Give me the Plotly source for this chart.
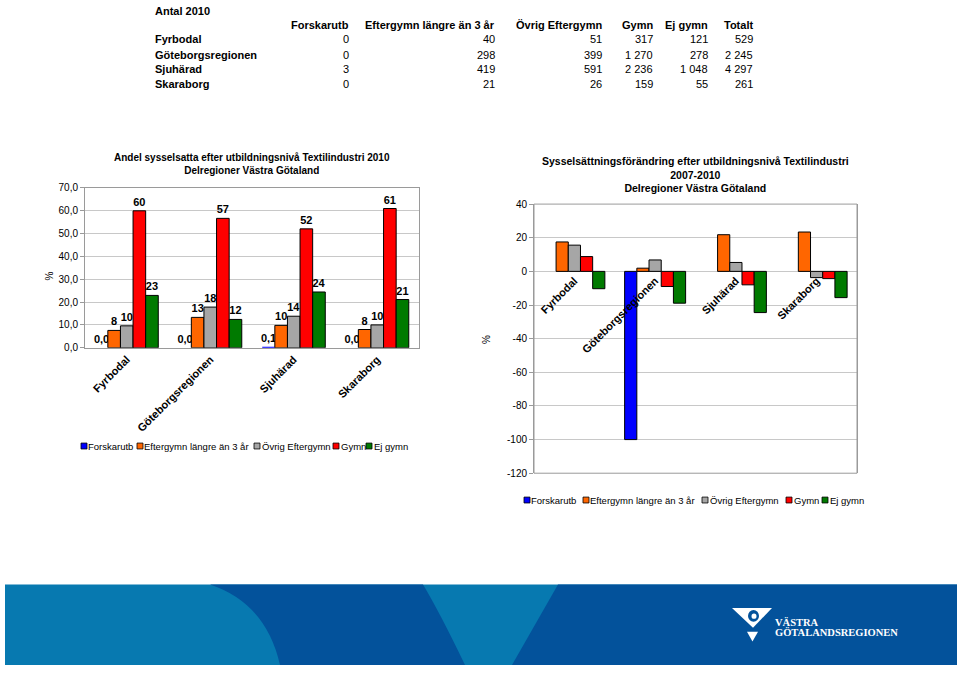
import plotly.graph_objects as go

W, H = 960, 673
FONT = "Liberation Sans, Arial, sans-serif"

# ---------------- data ----------------
regions = ["Fyrbodal", "Göteborgsregionen", "Sjuhärad", "Skaraborg"]
series = ["Forskarutb", "Eftergymn längre än 3 år", "Övrig Eftergymn", "Gymn", "Ej gymn"]
colors = ["#0000FF", "#FF6600", "#A6A6A6", "#FF0000", "#007A00"]

# table "Antal 2010"
table_title = "Antal 2010"
table_cols = ["Forskarutb", "Eftergymn längre än 3 år", "Övrig Eftergymn", "Gymn", "Ej gymn", "Totalt"]
table_rows = [
    ["0", "40", "51", "317", "121", "529"],
    ["0", "298", "399", "1 270", "278", "2 245"],
    ["3", "419", "591", "2 236", "1 048", "4 297"],
    ["0", "21", "26", "159", "55", "261"],
]

# left chart: share (%) 2010
share_forskarutb = [0.0, 0.0, 0.07, 0.0]
share_eftergymn = [7.6, 13.3, 9.8, 8.0]
share_ovrig = [9.6, 17.8, 13.8, 10.0]
share_gymn = [59.9, 56.6, 52.0, 60.9]
share_ejgymn = [22.9, 12.4, 24.4, 21.1]
left_values = [share_forskarutb, share_eftergymn, share_ovrig, share_gymn, share_ejgymn]
left_title = "<b>Andel sysselsatta efter utbildningsnivå Textilindustri 2010<br>Delregioner Västra Götaland</b>"

# right chart: change (%) 2007-2010
chg_forskarutb = [None, -100.0, None, None]
chg_eftergymn = [17.5, 1.9, 21.8, 23.4]
chg_ovrig = [15.6, 6.8, 5.3, -3.7]
chg_gymn = [8.8, -9.0, -8.0, -4.3]
chg_ejgymn = [-10.3, -18.9, -24.5, -15.6]
right_values = [chg_forskarutb, chg_eftergymn, chg_ovrig, chg_gymn, chg_ejgymn]
right_title = "<b>Sysselsättningsförändring efter utbildningsnivå Textilindustri<br>2007-2010<br>Delregioner Västra Götaland</b>"
right_ticks = [40, 20, 0, -20, -40, -60, -80, -100, -120]
right_ticktext = ["40", "20", "0", "-20", "-40", "-60", "-80", "-100", "-120"]


def px(x):
    return x / W


def py(y):
    return 1 - y / H


fig = go.Figure()

# ---------------- bars ----------------
for i, (name, col) in enumerate(zip(series, colors)):
    fig.add_trace(go.Bar(
        x=regions, y=left_values[i], name=name,
        marker=dict(color=col, line=dict(color="black", width=0 if i == 0 else 1)),
        texttemplate="%{y:.1f}" if i == 0 else "%{y:.0f}", textposition="outside",
        constraintext="none", cliponaxis=False,
        textfont=dict(size=11, color="black", family=FONT, weight="bold"),
        xaxis="x", yaxis="y", showlegend=False,
    ))
for i, (name, col) in enumerate(zip(series, colors)):
    fig.add_trace(go.Bar(
        x=regions, y=right_values[i], name=name, marker=dict(color=col, line=dict(color="black", width=1)),
        xaxis="x2", yaxis="y2", showlegend=False,
    ))

L_dom_x = [px(85), px(419)]
L_dom_y = [py(348), py(185)]
R_dom_x = [px(534), px(857)]
R_dom_y = [py(475.7), py(201.7)]
R_range = [-120, 40]
zero_pos = R_dom_y[0] + (0 - R_range[0]) / (R_range[1] - R_range[0]) * (R_dom_y[1] - R_dom_y[0])

grid = "#C8C8C8"
border = "#9A9A9A"

fig.update_layout(
    width=W, height=H, margin=dict(l=0, r=0, t=0, b=0),
    paper_bgcolor="white", plot_bgcolor="white",
    barmode="group", bargap=0.245, bargroupgap=0,
    separators=", ",
    font=dict(family=FONT, size=10, color="black"),
    xaxis=dict(domain=L_dom_x, anchor="y", showline=True, mirror=True, linecolor=border,
               tickangle=-45, tickfont=dict(size=11, weight="bold"), ticks="", showgrid=False),
    yaxis=dict(domain=L_dom_y, anchor="x", range=[0, 70], dtick=10, tickformat=".1f",
               showline=True, mirror=True, linecolor=border, gridcolor=grid, zeroline=False,
               ticks="outside", ticklen=4, tickcolor=border, tickfont=dict(size=10)),
    xaxis2=dict(domain=R_dom_x, anchor="free", position=zero_pos, showline=False, showgrid=False,
                tickangle=-45, tickfont=dict(size=11, weight="bold"), ticks=""),
    yaxis2=dict(domain=R_dom_y, anchor="x2", range=R_range, tickvals=right_ticks, ticktext=right_ticktext,
                showline=True, mirror=True, linecolor=border, gridcolor=grid, zeroline=False,
                ticks="outside", ticklen=4, tickcolor=border, tickfont=dict(size=10)),
)

shapes = []
ann = []

# right chart border top/bottom
shapes.append(dict(type="rect", xref="x2 domain", yref="y2 domain", x0=0, x1=1, y0=0, y1=1,
                   line=dict(color=border, width=1), layer="above"))

# titles
ann.append(dict(x=px(252), y=py(161), xref="paper", yref="paper", text=left_title, showarrow=False,
                font=dict(size=10), xanchor="center", yanchor="middle"))
ann.append(dict(x=px(695), y=py(172), xref="paper", yref="paper", text=right_title, showarrow=False,
                font=dict(size=10.5), xanchor="center", yanchor="middle"))
# y axis titles
ann.append(dict(x=px(42), y=py(275), xref="paper", yref="paper", text="%", showarrow=False,
                textangle=-90, font=dict(size=10)))
ann.append(dict(x=px(487), y=py(340), xref="paper", yref="paper", text="%", showarrow=False,
                textangle=-90, font=dict(size=10)))

# table
ann.append(dict(x=px(153), y=py(5), xref="paper", yref="paper", text="<b>" + table_title + "</b>",
                showarrow=False, xanchor="left", yanchor="middle", font=dict(size=11)))
col_right = [351, 497, 604, 655, 710, 755]
row_y = [34, 49.5, 64.5, 79.5]
for c, name in enumerate(table_cols):
    ann.append(dict(x=px(col_right[c]), y=py(19), xref="paper", yref="paper", text="<b>" + name + "</b>",
                    showarrow=False, xanchor="right", yanchor="middle", font=dict(size=11)))
for r, reg in enumerate(regions):
    ann.append(dict(x=px(153), y=py(row_y[r]), xref="paper", yref="paper", text="<b>" + reg + "</b>",
                    showarrow=False, xanchor="left", yanchor="middle", font=dict(size=11)))
    for c in range(len(table_cols)):
        ann.append(dict(x=px(col_right[c]), y=py(row_y[r]), xref="paper", yref="paper", text=table_rows[r][c],
                        showarrow=False, xanchor="right", yanchor="middle", font=dict(size=11)))

# manual legends
def legend(x_sq, x_txt, yc):
    for k, name in enumerate(series):
        shapes.append(dict(type="rect", xref="paper", yref="paper", x0=px(x_sq[k]), x1=px(x_sq[k] + 6),
                           y0=py(yc + 3), y1=py(yc - 3), fillcolor=colors[k], line=dict(color="black", width=0.8)))
        ann.append(dict(x=px(x_txt[k]), y=py(yc), xref="paper", yref="paper", text=name, showarrow=False,
                        xanchor="left", yanchor="middle", font=dict(size=9.5)))

legend([81, 137, 254, 333, 366], [86, 142, 260, 339, 372], 448)
legend([524, 583, 702, 786, 822], [529, 588, 708, 792, 828], 503)

# bottom band
BL, BD = "#0779B0", "#03529B"
shapes.append(dict(type="rect", xref="paper", yref="paper", x0=px(5), x1=px(957), y0=py(671), y1=py(589),
                   fillcolor=BL, line=dict(width=0), layer="below"))
def P(x, y):
    return f"{px(x):.5f},{py(y):.5f}"
path1 = f"M {P(210,589)} Q {P(266,608)} {P(280,671)} L {P(465,671)} Q {P(440,618)} {P(423,589)} Z"
path2 = f"M {P(558,589)} L {P(512,671)} L {P(957,671)} L {P(957,589)} Z"
for p in (path1, path2):
    shapes.append(dict(type="path", xref="paper", yref="paper", path=p, fillcolor=BD, line=dict(width=0),
                       layer="below"))
# logo
logo1 = f"M {P(732,613)} L {P(772,613)} L {P(753,633)} Z"
logo2 = f"M {P(747,637)} L {P(758,637)} L {P(752.5,647)} Z"
for p in (logo1, logo2):
    shapes.append(dict(type="path", xref="paper", yref="paper", path=p, fillcolor="white", line=dict(width=0)))
shapes.append(dict(type="circle", xref="paper", yref="paper", x0=px(748), x1=px(759), y0=py(627), y1=py(615),
                   fillcolor=BD, line=dict(width=0)))
shapes.append(dict(type="circle", xref="paper", yref="paper", x0=px(751.5), x1=px(756.5), y0=py(624), y1=py(618.5),
                   fillcolor="white", line=dict(width=0)))
ann.append(dict(x=px(773), y=py(627), xref="paper", yref="paper", text="<b>VÄSTRA</b>", showarrow=False,
                xanchor="left", yanchor="middle", font=dict(size=10.5, color="white", family="Liberation Serif, serif")))
ann.append(dict(x=px(773), y=py(637), xref="paper", yref="paper", text="<b>GÖTALANDSREGIONEN</b>", showarrow=False,
                xanchor="left", yanchor="middle", font=dict(size=10.5, color="white", family="Liberation Serif, serif")))

fig.update_layout(shapes=shapes, annotations=ann)

fig.write_html("out.html", config={"displayModeBar": False},
               post_script="document.body.style.margin='0';")
